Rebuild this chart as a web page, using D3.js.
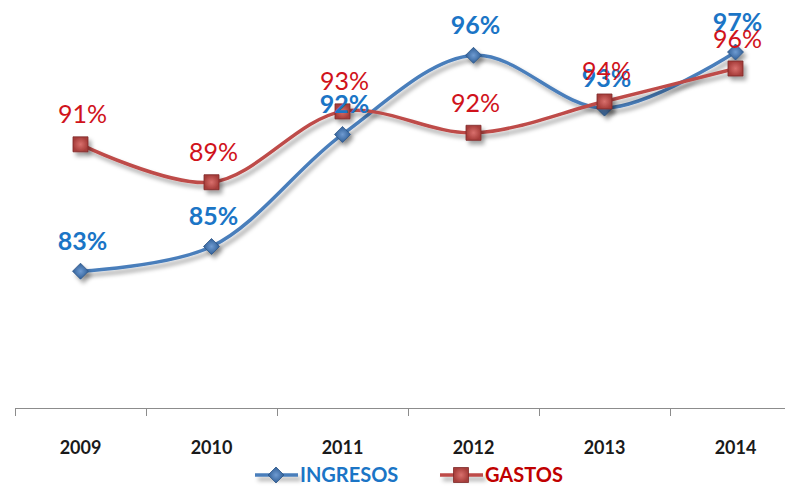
<!DOCTYPE html>
<html>
<head>
<meta charset="utf-8">
<script src="https://cdn.jsdelivr.net/npm/d3@7"></script>
<style>
  body { margin: 0; background: #fff; }
  svg { display: block; font-family: Lato, "Open Sans", sans-serif; }
</style>
</head>
<body>
<svg width="785" height="487"></svg>
<script>
const years = ["2009", "2010", "2011", "2012", "2013", "2014"];
const ingresos = [83.3, 84.8, 91.6, 96.4, 93.2, 96.6];
const gastos = [91.0, 88.7, 93.0, 91.7, 93.6, 95.6];
const seriesNames = ["INGRESOS", "GASTOS"];

const svg = d3.select("svg"),
      axisY = 408;

const x = d3.scaleBand().domain(years).range([15, 801]).padding(0);
const xb = d3.scaleLinear().domain([0, years.length]).range([15, 801]);
const y = d3.scaleLinear().domain([75, 100]).range([axisY, -4]);
const cx = d => x(d) + x.bandwidth() / 2;

// shadow + marker gradients
const defs = svg.append("defs");
const f = defs.append("filter").attr("id", "shadow")
  .attr("filterUnits", "userSpaceOnUse")
  .attr("x", -20).attr("y", -20).attr("width", 840).attr("height", 530);
f.append("feDropShadow").attr("dx", 3).attr("dy", 4).attr("stdDeviation", 2)
  .attr("flood-color", "#000").attr("flood-opacity", 0.35);

const gRed = defs.append("radialGradient").attr("id", "redMark");
gRed.append("stop").attr("offset", "0%").attr("stop-color", "#d9706d");
gRed.append("stop").attr("offset", "100%").attr("stop-color", "#a63d3a");
const gBlue = defs.append("radialGradient").attr("id", "blueMark");
gBlue.append("stop").attr("offset", "0%").attr("stop-color", "#6f9bd1");
gBlue.append("stop").attr("offset", "100%").attr("stop-color", "#2f5e97");

// axis
svg.append("g")
  .attr("transform", `translate(0,${axisY})`)
  .call(d3.axisBottom(xb).ticks(years.length).tickFormat("").tickSize(8).tickSizeOuter(0))
  .call(g => g.selectAll("path, line").attr("stroke", "#8c8c8c"));

svg.append("g")
  .attr("transform", `translate(0,${axisY})`)
  .call(d3.axisBottom(x).tickSize(0).tickPadding(33))
  .call(g => g.select(".domain").remove())
  .call(g => g.selectAll("text")
    .attr("font-family", "Lato, sans-serif")
    .attr("font-size", 18).attr("font-weight", "bold").attr("fill", "#1a1a1a"));

const line = d3.line()
  .x((d, i) => cx(years[i]))
  .y(d => y(d))
  .curve(d3.curveCatmullRom.alpha(0.5));

const series = [
  {name: seriesNames[0], values: ingresos, line: "#4a7ebb", label: "#1b75c6", weight: "bold", shape: "diamond"},
  {name: seriesNames[1], values: gastos, line: "#be4b48", label: "#d0121b", weight: "normal", shape: "square"}
];

const diamond = s => `M0,${-s}L${s},0L0,${s}L${-s},0Z`;
const square = s => `M${-s},${-s}H${s}V${s}H${-s}Z`;

series.forEach(s => {
  svg.append("path")
    .datum(s.values)
    .attr("d", line)
    .attr("fill", "none")
    .attr("stroke", s.line)
    .attr("stroke-width", 3.5)
    .attr("filter", "url(#shadow)");
});

series.forEach(s => {
  svg.append("g").selectAll("path")
    .data(s.values)
    .join("path")
      .attr("transform", (d, i) => `translate(${cx(years[i])},${y(d)})`)
      .attr("d", s.shape === "diamond" ? diamond(8) : square(7.5))
      .attr("fill", s.shape === "diamond" ? "url(#blueMark)" : "url(#redMark)")
      .attr("stroke", s.shape === "diamond" ? "#2c5687" : "#7e2a28")
      .attr("stroke-width", 0.8)
      .attr("filter", "url(#shadow)");
});

series.forEach(s => {
  svg.append("g").selectAll("text")
    .data(s.values)
    .join("text")
      .attr("x", (d, i) => cx(years[i]) + 2)
      .attr("y", d => y(d) - 21)
      .attr("text-anchor", "middle")
      .attr("font-size", 25)
      .attr("font-weight", s.weight)
      .attr("fill", s.label)
      .text(d => Math.round(d) + "%");
});

// legend
const legend = svg.append("g").attr("transform", "translate(0,475)");
const legItems = [
  {x: 255, s: series[0]},
  {x: 440, s: series[1]}
];
legItems.forEach(it => {
  const g = legend.append("g").attr("transform", `translate(${it.x},0)`);
  g.append("line").attr("x1", 0).attr("x2", 43).attr("y1", 0).attr("y2", 0)
    .attr("stroke", it.s.line).attr("stroke-width", 3.5).attr("filter", "url(#shadow)");
  g.append("path").attr("transform", "translate(21,0)")
    .attr("d", it.s.shape === "diamond" ? diamond(8) : square(7.5))
    .attr("fill", it.s.shape === "diamond" ? "url(#blueMark)" : "url(#redMark)")
    .attr("stroke", it.s.shape === "diamond" ? "#2c5687" : "#7e2a28")
    .attr("stroke-width", 0.8);
  g.append("text").attr("x", 45).attr("y", 7)
    .attr("font-size", 20).attr("font-weight", "bold")
    .attr("fill", it.s.shape === "diamond" ? "#1b75c6" : "#c00000")
    .text(it.s.name);
});
</script>
</body>
</html>
